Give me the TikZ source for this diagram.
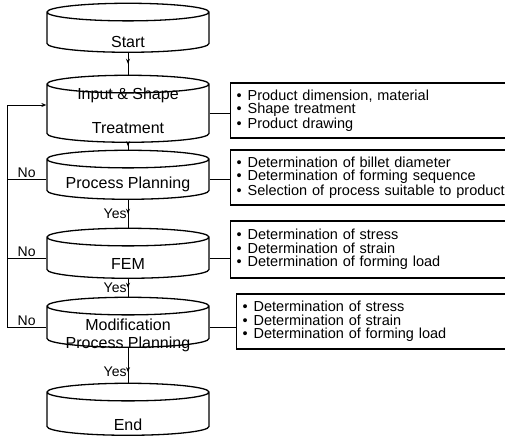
\documentclass[tikz,border=0pt]{standalone}
\usepackage{fontspec}
\setmainfont{Liberation Sans}
\usetikzlibrary{positioning, arrows.meta, shapes.geometric, decorations.markings}
\newcommand{\disktext}[2]{\raisebox{#1}[0pt][0pt]{\makebox[160pt]{\begin{tabular}{@{}c@{}}#2\end{tabular}}}}
\newcommand{\bul}{\textbullet\hspace{6pt}}

\begin{document}
\begin{tikzpicture}[x=1pt, y=-1pt, >={Stealth[length=5pt, width=4pt]},
    disk/.style={draw, line width=1.3pt, cylinder, shape border rotate=90, aspect=0.11,
        minimum width=162pt, inner sep=0pt, font=\fontsize{16}{18}\selectfont},
    info/.style={draw, line width=1.2pt, anchor=west, minimum height=55pt, text width=273pt,
        inner xsep=6pt, align=left, font=\fontsize{14.5}{13.5}\selectfont},
    link/.style={line width=0.9pt},
    midarrow/.style={link, postaction={decorate},
        decoration={markings, mark=at position #1 with {\arrow{>}}}},
    midarrow/.default=0.5,
    small/.style={font=\fontsize{14}{16}\selectfont, inner sep=1pt}]
    \useasboundingbox (0,0) rectangle (505,441);

    %process chain
    \node (start) [disk, minimum height=49pt] at (128,32.5) {\disktext{-15.3pt}{Start}};
    \node (input) [disk, minimum height=67pt] at (128,113.5) {\disktext{-3.5pt}{Input \& Shape\\[16pt]Treatment}};
    \node (plan) [disk, minimum height=49pt] at (128,179.5) {\disktext{-9.3pt}{Process Planning}};
    \node (fem) [disk, minimum height=50pt] at (128,258) {\disktext{-11.8pt}{FEM}};
    \node (mod) [disk, minimum height=50pt] at (128,327) {\disktext{-13.3pt}{Modification\\Process Planning}};
    \node (end) [disk, minimum height=52pt] at (128,414) {\disktext{-16.8pt}{End}};

    %details
    \node (inputinfo) [info] at (230,110.5) {\bul Product dimension, material\\ \bul Shape treatment\\ \bul Product drawing};
    \node (planinfo) [info] at (230,177.5) {\bul Determination of billet diameter\\ \bul Determination of forming sequence\\ \bul Selection of process suitable to product};
    \node (feminfo) [info, minimum height=57pt] at (230,249.5) {\bul Determination of stress\\ \bul Determination of strain\\ \bul Determination of forming load};
    \node (modinfo) [info] at (236,321.5) {\bul Determination of stress\\ \bul Determination of strain\\ \bul Determination of forming load};

    \draw[midarrow] (start) -- (input);
    \draw[midarrow] (input) -- (plan);
    \draw[midarrow] (plan) -- node[small, left] {Yes} (fem);
    \draw[midarrow] (fem) -- node[small, left] {Yes} (mod);
    \draw[midarrow=0.7] (mod) -- node[small, left, pos=0.7] {Yes} (end);

    \draw[link] (input.east) -- (input.east -| inputinfo.west);
    \draw[link] (plan.east) -- (plan.east -| planinfo.west);
    \draw[link] (fem.east) -- (fem.east -| feminfo.west);
    \draw[link] (mod.east) -- (mod.east -| modinfo.west);

    %feedback
    \coordinate (back) at (7,105);
    \draw[link] (plan.west) -- node[small, above] {No} (plan.west -| back);
    \draw[link] (fem.west) -- node[small, above] {No} (fem.west -| back);
    \draw[link, ->] (mod.west) -- node[small, above] {No} (mod.west -| back) -- (back) -- (back -| input.west);
\end{tikzpicture}
\end{document}
